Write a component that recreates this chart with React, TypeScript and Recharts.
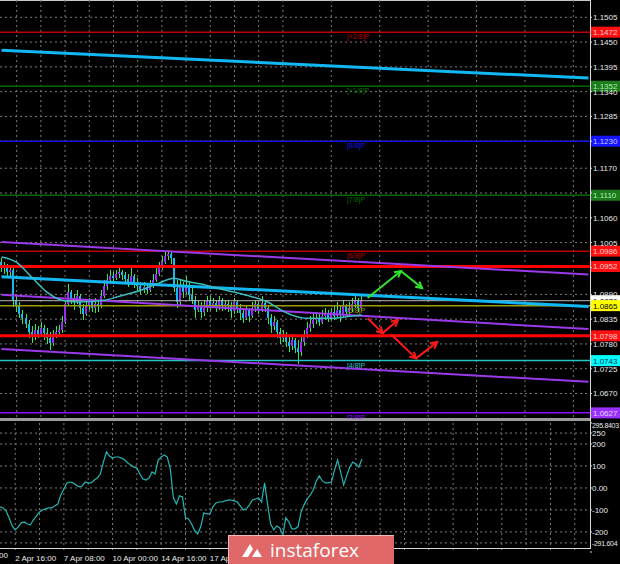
import React from 'react';
import { ComposedChart, Bar, Line, XAxis, YAxis, CartesianGrid, ReferenceLine } from 'recharts';

const FONT = '"Liberation Sans", Arial, sans-serif';
const SLOTS = 195;

// H4 candles, open = previous close
const firstOpen = 1.0961;
const closes = [
  1.0948, 1.0953, 1.0939, 1.0944, 1.0877, 1.0864, 1.0846, 1.0837, 1.0824, 1.0806,
  1.0797, 1.0811, 1.0802, 1.0815, 1.0804, 1.0793, 1.0782, 1.0797, 1.0806, 1.0811,
  1.0828, 1.0868, 1.0895, 1.0882, 1.0873, 1.0886, 1.0859, 1.0846, 1.0864, 1.0873,
  1.0859, 1.0868, 1.0864, 1.0886, 1.0908, 1.0922, 1.0930, 1.0926, 1.0935, 1.0939,
  1.0933, 1.0924, 1.0917, 1.0930, 1.0915, 1.0908, 1.0899, 1.0906, 1.0899, 1.0911,
  1.0922, 1.0935, 1.0948, 1.0961, 1.0975, 1.0979, 1.0970, 1.0904, 1.0873, 1.0908,
  1.0895, 1.0911, 1.0888, 1.0877, 1.0855, 1.0864, 1.0851, 1.0859, 1.0877, 1.0866,
  1.0871, 1.0859, 1.0877, 1.0864, 1.0868, 1.0864, 1.0853, 1.0873, 1.0859, 1.0848,
  1.0837, 1.0855, 1.0842, 1.0859, 1.0868, 1.0855, 1.0871, 1.0859, 1.0837, 1.0820,
  1.0828, 1.0806, 1.0793, 1.0800, 1.0784, 1.0775, 1.0788, 1.0771, 1.0762, 1.0784,
  1.0802, 1.0815, 1.0824, 1.0833, 1.0837, 1.0828, 1.0842, 1.0846, 1.0837, 1.0851,
  1.0842, 1.0855, 1.0844, 1.0866, 1.0851, 1.0859, 1.0868, 1.0877, 1.0859, 1.0876,
];
const highs = [
  1.0970, 1.0961, 1.0957, 1.0953, 1.0948, 1.0886, 1.0873, 1.0855, 1.0846, 1.0833,
  1.0820, 1.0824, 1.0820, 1.0828, 1.0822, 1.0815, 1.0806, 1.0811, 1.0820, 1.0822,
  1.0842, 1.0877, 1.0913, 1.0899, 1.0890, 1.0899, 1.0890, 1.0868, 1.0877, 1.0882,
  1.0877, 1.0882, 1.0877, 1.0899, 1.0922, 1.0935, 1.0944, 1.0939, 1.0944, 1.0948,
  1.0944, 1.0939, 1.0935, 1.0953, 1.0935, 1.0926, 1.0917, 1.0917, 1.0913, 1.0922,
  1.0935, 1.0948, 1.0961, 1.0975, 1.0984, 1.0988, 1.0986, 1.0970, 1.0922, 1.0922,
  1.0917, 1.0930, 1.0915, 1.0904, 1.0886, 1.0877, 1.0873, 1.0877, 1.0886, 1.0886,
  1.0882, 1.0877, 1.0886, 1.0882, 1.0877, 1.0877, 1.0873, 1.0882, 1.0877, 1.0868,
  1.0859, 1.0864, 1.0859, 1.0873, 1.0877, 1.0873, 1.0886, 1.0877, 1.0864, 1.0846,
  1.0842, 1.0833, 1.0815, 1.0811, 1.0806, 1.0797, 1.0802, 1.0793, 1.0788, 1.0797,
  1.0811, 1.0828, 1.0842, 1.0846, 1.0851, 1.0846, 1.0855, 1.0859, 1.0855, 1.0859,
  1.0864, 1.0873, 1.0864, 1.0877, 1.0868, 1.0873, 1.0882, 1.0886, 1.0882, 1.0886,
];
const lows = [
  1.0939, 1.0935, 1.0930, 1.0926, 1.0862, 1.0851, 1.0837, 1.0824, 1.0815, 1.0793,
  1.0782, 1.0788, 1.0793, 1.0797, 1.0788, 1.0779, 1.0766, 1.0775, 1.0793, 1.0797,
  1.0804, 1.0824, 1.0864, 1.0868, 1.0855, 1.0868, 1.0846, 1.0833, 1.0842, 1.0855,
  1.0851, 1.0848, 1.0851, 1.0859, 1.0882, 1.0899, 1.0913, 1.0915, 1.0922, 1.0926,
  1.0922, 1.0913, 1.0906, 1.0913, 1.0904, 1.0895, 1.0890, 1.0893, 1.0890, 1.0895,
  1.0904, 1.0917, 1.0930, 1.0944, 1.0957, 1.0966, 1.0957, 1.0895, 1.0859, 1.0864,
  1.0882, 1.0890, 1.0877, 1.0868, 1.0837, 1.0851, 1.0837, 1.0842, 1.0851, 1.0855,
  1.0859, 1.0851, 1.0855, 1.0853, 1.0855, 1.0851, 1.0837, 1.0846, 1.0848, 1.0833,
  1.0826, 1.0833, 1.0828, 1.0837, 1.0851, 1.0846, 1.0851, 1.0851, 1.0824, 1.0804,
  1.0811, 1.0793, 1.0779, 1.0784, 1.0773, 1.0762, 1.0766, 1.0759, 1.0735, 1.0753,
  1.0775, 1.0793, 1.0806, 1.0815, 1.0824, 1.0820, 1.0824, 1.0833, 1.0828, 1.0833,
  1.0833, 1.0837, 1.0828, 1.0837, 1.0842, 1.0842, 1.0851, 1.0859, 1.0851, 1.0855,
];

// moving average, read at a few bars
const maBars = [0, 5, 10, 15, 20, 25, 34, 39, 46, 52, 57, 61, 66, 70, 77, 81, 88, 92, 96, 101, 109, 116, 119];
const maValues = [
  1.0973, 1.0961, 1.0928, 1.0895, 1.0877, 1.0873, 1.0877, 1.0886, 1.0899, 1.0915, 1.0926, 1.0919,
  1.0913, 1.0906, 1.0895, 1.0888, 1.0873, 1.0857, 1.0844, 1.0837, 1.0837, 1.0842, 1.0844,
];

const cci = [
  -86, -91, -105, -136, -173, -191, -177, -159, -155, -164,
  -168, -145, -127, -109, -100, -95, -91, -91, -82, -73,
  -32, -5, 23, 27, 23, 14, 5, 9, 27, 23,
  23, 36, 45, 64, 118, 164, 145, 136, 141, 141,
  136, 127, 114, 105, 95, 91, 64, 41, 36, 45,
  73, 64, 127, 141, 150, 141, 86, -45, -73, -36,
  -41, -136, -141, -164, -195, -209, -177, -114, -118, -118,
  -86, -68, -64, -64, -59, -55, -55, -59, -64, -82,
  -100, -95, -77, -55, -50, -45, -64, 23, -77, -164,
  -191, -173, -182, -214, -136, -155, -186, -186, -177, -109,
  -77, -50, -32, -9, 32, 55, 32, 23, 23, 27,
  82, 127, 73, 14, 55, 95, 118, 109, 95, 132,
];

// levels
const murreyPrices = [1.1472, 1.1352, 1.1230, 1.1110, 1.0986, 1.0865, 1.0743, 1.0627];
const murreyNames = ['[+2/8]P', '[+1/8]P', '[8/8]P', '[7/8]P', '[6/8]P', '[5/8]P', '[4/8]P', '[3/8]P'];
const keyLevels = [1.0952, 1.0798];

// trend lines: value at first and last slot
const trendEnds = [0, 194];
const cyanUpper = [1.1432, 1.1370];
const cyanLower = [1.0929, 1.0863];
const channelTop = [1.1006, 1.0934];
const channelMid = [1.0889, 1.0813];
const channelLow = [1.0769, 1.0696];

// scenario arrows
const greenArrowBars = [121, 132, 139];
const greenArrowPrices = [1.0882, 1.0942, 1.0904];
const redArrow1Bars = [121, 126, 131];
const redArrow1Prices = [1.0837, 1.0804, 1.0833];
const redArrow2Bars = [129, 137, 144];
const redArrow2Prices = [1.0800, 1.0748, 1.0784];

const priceTicks = [1.1505, 1.1450, 1.1395, 1.1340, 1.1285, 1.1230, 1.1170, 1.1115, 1.1060, 1.1005, 1.0950, 1.0890, 1.0835, 1.0780, 1.0725, 1.0670];
const coveredTicks = [1.1230, 1.1115, 1.0950];
const cciTicks = [295.8403, 250, 200, 100, 0, -100, -200, -291.604];
const cciGrid = [250, 200, 100, 0, -100, -200, -250];

const gridBars = [5, 13, 21, 29, 37, 45, 53, 61, 69, 77, 85, 93, 101, 109, 117, 125, 133, 141, 149, 157, 165, 173, 181, 189];
const timeBars = [5, 21, 37, 53, 69];
const timeLabels = ['2 Apr 16:00', '7 Apr 08:00', '10 Apr 00:00', '14 Apr 16:00', '17 Apr 08:00'];

const murreyColors = ['#b80000', '#006a00', '#1414e6', '#006a00', '#b80000', '#9c9c00', '#22c4c4', '#8a10ff'];
const tagColors = ['#ff1010', '#1d7a1d', '#1414ff', '#1d7a1d', '#ff1010', '#ffff00', '#00ffff', '#9a30ff'];
const tagText = ['#ffd0d0', '#a8f0a8', '#c8c8ff', '#a8f0a8', '#ffd0d0', '#000000', '#003050', '#e8d0ff'];

const rows = Array.from({ length: SLOTS }, (_, i) => {
  const ma = maBars.indexOf(i) >= 0 ? maValues[maBars.indexOf(i)] : null;
  if (i >= closes.length) return { i, ma: null, cci: null };
  const open = i === 0 ? firstOpen : closes[i - 1];
  const close = closes[i];
  return {
    i,
    open,
    close,
    high: Math.max(highs[i], open, close),
    low: Math.min(lows[i], open, close),
    ma,
    cci: cci[i],
  };
});
const lastPrice = closes[closes.length - 1];

const Candle = (p: any) => {
  const { x, y, width, height, payload } = p;
  if (!payload || payload.high == null) return null;
  const top = Math.min(y, y + height);
  const bot = Math.max(y, y + height);
  const span = payload.high - payload.low || 1e-9;
  const toY = (v: number) => top + ((payload.high - v) / span) * (bot - top);
  const yo = toY(payload.open);
  const yc = toY(payload.close);
  const up = payload.close >= payload.open;
  const cx = Math.round(x + width / 2);
  const b1 = Math.min(yo, yc);
  const b2 = Math.max(yo, yc);
  return (
    <g shapeRendering="crispEdges">
      <rect x={cx} y={top} width={1} height={Math.max(1, bot - top)} fill="#38e858" />
      <rect x={cx - 1} y={b1} width={2} height={Math.max(1.5, b2 - b1)} fill={up ? '#9a2cf4' : '#18b8f0'} />
    </g>
  );
};

const levelLabel = (name: string | null, tag: string, bg: string, fg: string, nameColor: string) => (props: any) => {
  const vb = props.viewBox;
  if (!vb) return null;
  const right = vb.x + vb.width;
  return (
    <g>
      {name && (
        <text x={vb.x + vb.width * 0.588} y={vb.y + 7} fontSize={7} fontFamily={FONT} fill={nameColor}>
          {name}
        </text>
      )}
      <rect x={right + 1} y={vb.y - 5.5} width={29} height={11} fill={bg} />
      <text x={right + 3} y={vb.y + 3} fontSize={8} fontFamily={FONT} fill={fg}>
        {tag}
      </text>
    </g>
  );
};

const makeArrow = (color: string) => (p: any) => {
  const { x1, y1, x2, y2 } = p;
  const a = Math.atan2(y2 - y1, x2 - x1);
  const L = 7;
  const s = 0.5;
  const hx1 = x2 - L * Math.cos(a - s);
  const hy1 = y2 - L * Math.sin(a - s);
  const hx2 = x2 - L * Math.cos(a + s);
  const hy2 = y2 - L * Math.sin(a + s);
  return (
    <g>
      <line x1={x1} y1={y1} x2={x2} y2={y2} stroke={color} strokeWidth={2} />
      <polyline points={`${hx1},${hy1} ${x2},${y2} ${hx2},${hy2}`} fill="none" stroke={color} strokeWidth={2} />
    </g>
  );
};

const PriceTick = (p: any) => {
  const v = p.payload.value;
  if (coveredTicks.indexOf(v) >= 0) return null;
  return (
    <text x={p.x} y={p.y + 3} fontSize={8} fontFamily={FONT} fill="#e8e8e8">
      {v.toFixed(4)}
    </text>
  );
};

const CciTick = (p: any) => {
  const v = p.payload.value;
  const top = v === cciTicks[0];
  const bottom = v === cciTicks[cciTicks.length - 1];
  let dy = 3;
  if (top) dy = 5;
  if (bottom) dy = -6;
  return (
    <text x={p.x} y={p.y + dy} fontSize={top || bottom ? 7 : 8} letterSpacing={top || bottom ? -0.3 : 0} fontFamily={FONT} fill="#e8e8e8">
      {v === 0 ? '0.00' : String(v)}
    </text>
  );
};

const TimeTick = (p: any) => {
  const k = timeBars.indexOf(p.payload.value);
  if (k < 0) return null;
  return (
    <text x={p.x} y={p.y + 7} fontSize={8} fontFamily={FONT} fill="#e8e8e8">
      {timeLabels[k]}
    </text>
  );
};

const arrowSegments = (bars: number[], prices: number[], color: string, key: string) =>
  bars.slice(1).map((b, k) => (
    <ReferenceLine
      key={key + k}
      segment={[
        { x: bars[k], y: prices[k] },
        { x: b, y: prices[k + 1] },
      ]}
      stroke={color}
      shape={makeArrow(color)}
    />
  ));

const trend = (vals: number[], color: string, w: number, key: string) => (
  <ReferenceLine
    key={key}
    segment={[
      { x: trendEnds[0], y: vals[0] },
      { x: trendEnds[1], y: vals[1] },
    ]}
    stroke={color}
    strokeWidth={w}
  />
);

export default function App() {
  return (
    <div style={{ position: 'absolute', left: 0, top: 0, width: 620, height: 564, background: '#000', overflow: 'hidden', fontFamily: FONT }}>
      <div style={{ position: 'absolute', left: 0, top: 0, width: 590, height: 1, background: '#c8c8c8' }} />
      <div style={{ position: 'absolute', left: 0, top: 418, width: 590, height: 3, background: '#9c9c9c' }} />

      <div style={{ position: 'absolute', left: 0, top: 0 }}>
        <ComposedChart width={620} height={419} data={rows} margin={{ top: 0, right: 0, bottom: 0, left: 0 }}>
          <CartesianGrid stroke="#7a7a7a" strokeDasharray="2 3" horizontalValues={priceTicks} verticalValues={gridBars} />
          <XAxis dataKey="i" hide />
          <YAxis
            orientation="right"
            width={30}
            type="number"
            domain={[1.06134, 1.15434]}
            allowDataOverflow
            ticks={priceTicks}
            interval={0}
            axisLine={false}
            tickLine={{ stroke: '#d0d0d0' }}
            tickSize={2}
            tickMargin={1}
            tick={<PriceTick />}
          />
          <ReferenceLine y={lastPrice} stroke="#b8b8b8" strokeWidth={1} label={levelLabel(null, lastPrice.toFixed(4), '#ffffff', '#000000', '#fff')} />
          {murreyPrices.map((p, k) => (
            <ReferenceLine
              key={'m' + k}
              y={p}
              stroke={murreyColors[k]}
              strokeWidth={1.5}
              label={levelLabel(murreyNames[k], p.toFixed(4), tagColors[k], tagText[k], murreyColors[k])}
            />
          ))}
          {keyLevels.map((p, k) => (
            <ReferenceLine key={'k' + k} y={p} stroke="#ff0000" strokeWidth={3} label={levelLabel(null, p.toFixed(4), '#ff1010', '#ffd0d0', '#f00')} />
          ))}
          {trend(cyanUpper, '#12b8f4', 3, 'cu')}
          {trend(cyanLower, '#12b8f4', 3, 'cl')}
          {trend(channelTop, '#9a3ae8', 2, 'pt')}
          {trend(channelMid, '#9a3ae8', 2, 'pm')}
          {trend(channelLow, '#9a3ae8', 2, 'pl')}
          <Bar
            dataKey={(d: any) => (d.high == null ? null : [d.low, d.high])}
            shape={Candle}
            isAnimationActive={false}
          />
          <Line
            dataKey="ma"
            type="monotone"
            connectNulls
            dot={false}
            activeDot={false}
            stroke="#3cbcbc"
            strokeWidth={1.5}
            isAnimationActive={false}
          />
          {arrowSegments(greenArrowBars, greenArrowPrices, '#2ee62e', 'g')}
          {arrowSegments(redArrow1Bars, redArrow1Prices, '#ff1a1a', 'r1')}
          {arrowSegments(redArrow2Bars, redArrow2Prices, '#ff1a1a', 'r2')}
        </ComposedChart>
      </div>

      <div style={{ position: 'absolute', left: 0, top: 421 }}>
        <ComposedChart width={620} height={143} data={rows} margin={{ top: 2, right: 0, bottom: 0, left: 0 }}>
          <CartesianGrid stroke="#7a7a7a" strokeDasharray="2 3" horizontalValues={cciGrid} verticalValues={gridBars} />
          <XAxis
            dataKey="i"
            height={12}
            ticks={gridBars}
            interval={0}
            axisLine={false}
            tickLine={false}
            tickSize={0}
            tick={<TimeTick />}
          />
          <YAxis
            orientation="right"
            width={30}
            type="number"
            domain={[-291.604, 295.8403]}
            allowDataOverflow
            ticks={cciTicks}
            interval={0}
            axisLine={false}
            tickLine={{ stroke: '#d0d0d0' }}
            tickSize={2}
            tickMargin={0}
            tick={<CciTick />}
          />
          <Line dataKey="cci" type="linear" dot={false} activeDot={false} stroke="#26b4b4" strokeWidth={1.2} isAnimationActive={false} />
        </ComposedChart>
      </div>

      <div style={{ position: 'absolute', left: 590, top: 0, width: 1, height: 549, background: '#d8d8d8' }} />
      <div style={{ position: 'absolute', left: 0, top: 548, width: 591, height: 1, background: '#d8d8d8' }} />
      <div style={{ position: 'absolute', left: -42, top: 551, width: 50, textAlign: 'right', fontSize: 8, color: '#e8e8e8', lineHeight: '10px' }}>
        31 Mar 00:00
      </div>

      <div
        style={{
          position: 'absolute',
          left: 228,
          top: 535,
          width: 166,
          height: 29,
          background: '#e06868',
          borderTop: '1px solid #f2b8b8',
          borderLeft: '1px solid #f2b8b8',
          boxSizing: 'border-box',
        }}
      >
        <svg width={24} height={20} style={{ position: 'absolute', left: 11, top: 5 }}>
          <path d="M2 16 L10 3 L13 8 L8 16 Z" fill="#ffffff" />
          <path d="M12 16 L17 8 L22 16 Z" fill="#ffffff" />
        </svg>
        <div
          style={{
            position: 'absolute',
            left: 41,
            top: 3,
            fontFamily: '"Open Sans", Lato, sans-serif',
            fontSize: 19,
            color: '#ffffff',
            lineHeight: '22px',
          }}
        >
          instaforex
        </div>
      </div>
    </div>
  );
}
